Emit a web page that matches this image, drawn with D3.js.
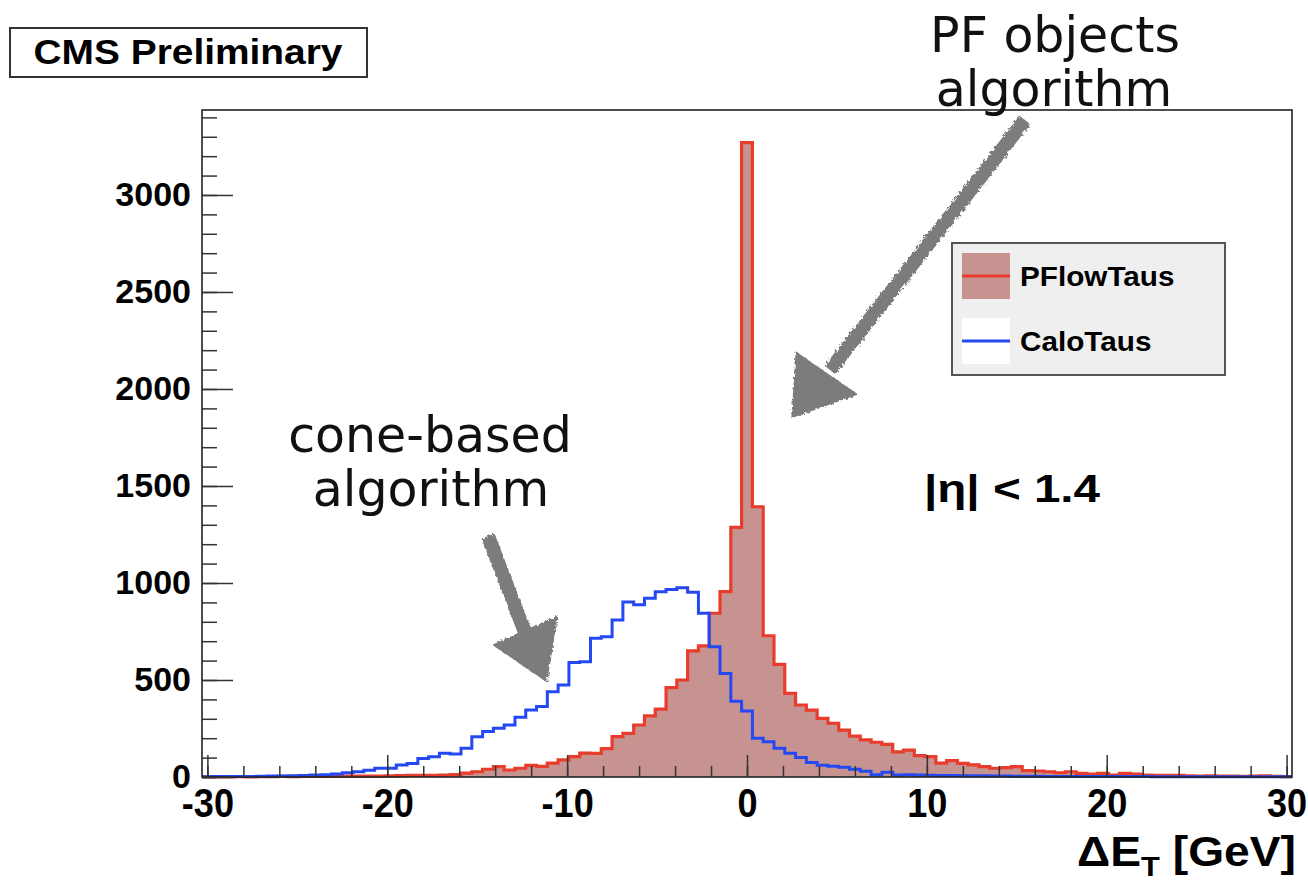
<!DOCTYPE html>
<html>
<head>
<meta charset="utf-8">
<script src="https://cdn.jsdelivr.net/npm/d3@7"></script>
<style>
  body{margin:0;background:#fff;}
  svg{display:block;}
</style>
</head>
<body>
<script>
// histogram: 101 bins of 0.6 GeV from -30.3 to 30.3
var xLow=-30.3, binWidth=0.6
// PFlowTaus counts, bin by bin from left
var pflow=[1,1,1,2,1,2,2,3,2,3,3,3,4,4,5,5,5,6,7,8,8,9,10,12,20,27,40,53,36,45,60,
  55,72,88,105,123,122,146,208,225,268,315,350,461,500,650,676,844,955,1287,
  3270,
  1393,728,581,431,371,345,302,277,242,211,191,179,168,130,139,110,105,72,84,70,
  62,53,45,48,53,33,31,27,22,27,19,15,19,10,19,15,10,9,8,8,6,5,6,4,5,3,4,6,3,2]
// CaloTaus counts
var calo=[1,2,2,3,3,4,5,5,7,8,10,12,15,22,27,35,45,45,62,70,96,105,122,119,148,208,234,251,268,308,345,
  364,440,474,590,594,715,723,809,902,888,921,955,966,975,952,844,672,534,390,
  340,
  200,182,148,122,100,75,60,55,50,40,30,12,25,10,11,10,9,8,8,7,
  6,6,5,5,4,4,4,3,3,3,3,2,2,2,2,2,2,1,1,1,1,1,1,1,1,1,1,1,1,1]
var xMajor=[-30,-20,-10,0,10,20,30]
var yMajor=[0,500,1000,1500,2000,2500,3000]
var seriesNames=["PFlowTaus","CaloTaus"]

var screen={width:1308,height:885}
var frame={left:202,right:1292,top:110,bottom:777}
var redLine="#e83c2c", redFill="#c79391", blueLine="#2449f2"
var helv="Liberation Sans, Arial, sans-serif"

var svg=d3.select("body").append("svg")
  .attr("width",screen.width)
  .attr("height",screen.height)

// squeeze or stretch a text to a width
var fitWidth=function(sel,f){
  sel.each(function(){
    var w=this.getComputedTextLength()
    d3.select(this).attr("textLength",w*f).attr("lengthAdjust","spacingAndGlyphs")
  })
}

var xScale=d3.scaleLinear().domain([xLow,xLow+binWidth*pflow.length]).range([frame.left,frame.right])
var yScale=d3.scaleLinear().domain([0,3438]).range([frame.bottom,frame.top])

var toPoints=function(vals){
  var pts=vals.map(function(v,i){return [xLow+i*binWidth,v]})
  pts.push([xLow+vals.length*binWidth,vals[vals.length-1]])
  return pts
}

var area=d3.area().curve(d3.curveStepAfter)
  .x(function(d){return xScale(d[0])})
  .y0(yScale(0))
  .y1(function(d){return yScale(d[1])})
var line=d3.line().curve(d3.curveStepAfter)
  .x(function(d){return xScale(d[0])})
  .y(function(d){return yScale(d[1])})

var plot=svg.append("g")
plot.append("path").datum(toPoints(pflow)).attr("d",area).attr("fill",redFill)
plot.append("path").datum(toPoints(pflow)).attr("d",line)
  .attr("fill","none").attr("stroke",redLine).attr("stroke-width",3.2)
plot.append("path").datum(toPoints(calo)).attr("d",line)
  .attr("fill","none").attr("stroke",blueLine).attr("stroke-width",3)

// frame
svg.append("rect")
  .attr("x",frame.left).attr("y",frame.top)
  .attr("width",frame.right-frame.left).attr("height",frame.bottom-frame.top)
  .attr("fill","none").attr("stroke","#222").attr("stroke-width",1.6)

// y axis ticks (inside) and labels
var yMinor=d3.range(0,3401,100)
svg.append("g").attr("transform","translate("+frame.left+",0)")
  .call(d3.axisLeft(yScale).tickValues(yMinor).tickSize(-15).tickFormat(""))
  .call(function(g){g.select(".domain").remove()})
  .selectAll("line").attr("stroke","#333").attr("stroke-width",1.5)
var yAx=svg.append("g").attr("transform","translate("+frame.left+",0)")
  .call(d3.axisLeft(yScale).tickValues(yMajor).tickSize(-31).tickPadding(11).tickFormat(d3.format("d")))
yAx.select(".domain").remove()
yAx.selectAll("line").attr("stroke","#333").attr("stroke-width",1.5)
yAx.selectAll("text").attr("font-family",helv)
  .attr("font-weight","bold").attr("font-size",34).attr("fill","#000")

// x axis
var xMinor=d3.range(-30,30.1,2)
svg.append("g").attr("transform","translate(0,"+frame.bottom+")")
  .call(d3.axisBottom(xScale).tickValues(xMinor).tickSize(-11).tickFormat(""))
  .call(function(g){g.select(".domain").remove()})
  .selectAll("line").attr("stroke","#333").attr("stroke-width",1.5)
var xAx=svg.append("g").attr("transform","translate(0,"+frame.bottom+")")
  .call(d3.axisBottom(xScale).tickValues(xMajor).tickSize(-22).tickPadding(11)
    .tickFormat(function(d){return d}))
xAx.select(".domain").remove()
xAx.selectAll("line").attr("stroke","#333").attr("stroke-width",1.5)
xAx.selectAll("text").attr("font-family",helv)
  .attr("font-weight","bold").attr("font-size",41).attr("fill","#000")
  .call(fitWidth,0.88)

// axis title
var xt=svg.append("text").attr("x",1296).attr("y",866).attr("text-anchor","end")
  .attr("font-family",helv).attr("font-weight","bold")
  .attr("font-size",42)
xt.append("tspan").text("ΔE")
xt.append("tspan").attr("font-size",28).attr("dy",10).text("T")
xt.append("tspan").attr("dy",-10).text(" [GeV]")
xt.call(fitWidth,1.1)

// CMS Preliminary box
svg.append("rect").attr("x",10).attr("y",28).attr("width",357).attr("height",49)
  .attr("fill","#fff").attr("stroke","#333").attr("stroke-width",2)
svg.append("text").attr("x",188).attr("y",64).attr("text-anchor","middle")
  .attr("font-family",helv).attr("font-weight","bold")
  .attr("font-size",35).text("CMS Preliminary")
  .attr("textLength",309).attr("lengthAdjust","spacingAndGlyphs")

// legend
var leg=svg.append("g").attr("transform","translate(952,243)")
leg.append("rect").attr("width",273).attr("height",132)
  .attr("fill","#efefef").attr("stroke","#555").attr("stroke-width",2)
var entries=leg.selectAll("g.entry").data(seriesNames).enter().append("g")
  .attr("transform",function(d,i){return "translate(10,"+(10+i*65)+")"})
entries.append("rect").attr("width",48).attr("height",46)
  .attr("fill",function(d,i){return i==0?redFill:"#fff"})
entries.append("line").attr("x1",0).attr("x2",48).attr("y1",23).attr("y2",23)
  .attr("stroke",function(d,i){return i==0?redLine:blueLine}).attr("stroke-width",3)
entries.append("text").attr("x",58).attr("y",33)
  .attr("font-family",helv).attr("font-weight","bold")
  .attr("font-size",28).text(function(d){return d})
  .call(fitWidth,1.06)

// eta cut
svg.append("text").attr("x",924).attr("y",502)
  .attr("font-family",helv).attr("font-weight","bold")
  .attr("font-size",38).text("|η| < 1.4")
  .attr("textLength",176).attr("lengthAdjust","spacingAndGlyphs")

// annotations
var note=function(x,y,t){
  svg.append("text").attr("x",x).attr("y",y).attr("text-anchor","middle")
    .attr("font-family","DejaVu Sans, Verdana, sans-serif").attr("font-size",49)
    .attr("fill","#111").text(t)
}
note(1055,52,"PF objects")
note(1054,106,"algorithm")
note(430,452,"cone-based")
note(431,506,"algorithm")

// hand drawn style gray arrows
var arrows=[
  {shaft:[[1025,120],[830,370]],head:[[797,354],[855,394],[793,416]]},
  {shaft:[[488,536],[528,640]],head:[[495,645],[556,618],[546,680]]}
]
var rough=svg.append("defs").append("filter").attr("id","rough")
rough.append("feTurbulence").attr("type","fractalNoise").attr("baseFrequency",0.35).attr("numOctaves",2).attr("result","n")
rough.append("feDisplacementMap").attr("in","SourceGraphic").attr("in2","n").attr("scale",5)
var ag=svg.append("g").attr("filter","url(#rough)")
arrows.forEach(function(a){
  ag.append("line").attr("x1",a.shaft[0][0]).attr("y1",a.shaft[0][1])
    .attr("x2",a.shaft[1][0]).attr("y2",a.shaft[1][1])
    .attr("stroke","#7c7c7c").attr("stroke-width",14)
  ag.append("path").attr("d","M"+a.head.join("L")+"Z")
    .attr("fill","#7c7c7c").attr("stroke","#7c7c7c").attr("stroke-width",3)
})
</script>
</body>
</html>
